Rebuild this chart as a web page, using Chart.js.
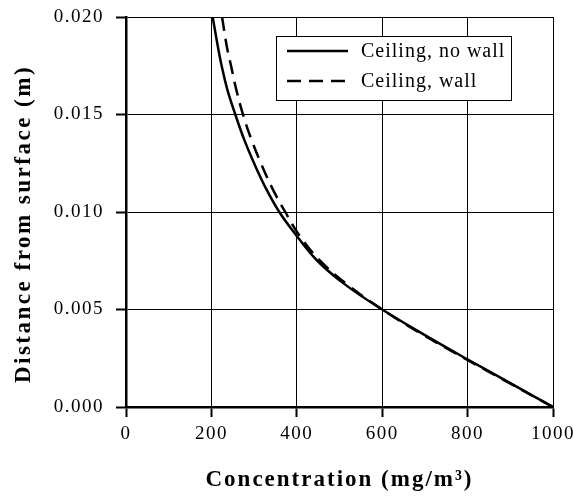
<!DOCTYPE html>
<html><head><meta charset="utf-8">
<script src="https://cdn.jsdelivr.net/npm/chart.js@4.4.1/dist/chart.umd.min.js"></script>
<style>html,body{margin:0;padding:0;background:#fff;} #wrap{width:573px;height:497px;position:relative;}</style>
</head><body><div id="wrap"><canvas id="c"></canvas></div>
<script>
// ---- data ----
const xTicks = [0, 200, 400, 600, 800, 1000];
const yTicks = [0, 0.005, 0.010, 0.015, 0.020];
const seriesLabels = ['Ceiling, no wall', 'Ceiling, wall'];
const distance = [0.0200, 0.0185, 0.0175, 0.0163, 0.0150, 0.0137, 0.0125, 0.0112, 0.0100, 0.0088, 0.0075, 0.00625, 0.0050, 0.00375, 0.0025, 0.00125, 0];
const noWallConc = [203, 215, 224, 237, 256, 277, 300, 328, 359, 399, 448, 515, 600, 695, 795, 898, 1000];
const wallConc   = [225, 236, 246, 258, 274, 294, 316, 343, 373, 406, 455, 520, 600, 692, 792, 896, 1000];
const xTitle = 'Concentration (mg/m\u00B3)';
const yTitle = 'Distance from surface (m)';

const SERIF = "'Liberation Serif', 'DejaVu Serif', serif";

const spacingPlugin = {
  id: 'spacing',
  beforeDraw(chart) {
    chart.ctx.letterSpacing = '1.5px';
    Object.values(chart.scales).forEach(s => {
      if (!s._titlePatched) {
        const orig = s.drawTitle;
        s.drawTitle = function () {
          const c = this.ctx; const prev = c.letterSpacing;
          c.save();
          c.letterSpacing = this.isHorizontal() ? '2px' : '2.5px';
          if (!this.isHorizontal()) c.translate(0, 12);
          orig.call(this);
          c.restore();
          c.letterSpacing = prev;
        };
        s._titlePatched = true;
      }
    });
  },
  beforeDatasetsDraw(chart) { chart.ctx.letterSpacing = '0px'; }
};

const boxLegend = {
  id: 'boxLegend',
  afterDraw(chart) {
    const ctx = chart.ctx, ca = chart.chartArea;
    const bx = ca.left + 150, by = ca.top + 19, bw = 235, bh = 64;
    ctx.save();
    ctx.fillStyle = '#fff';
    ctx.fillRect(bx, by, bw, bh);
    ctx.strokeStyle = '#000'; ctx.lineWidth = 1;
    ctx.strokeRect(bx + 0.5, by + 0.5, bw, bh);
    chart.data.datasets.forEach((ds, i) => {
      const y = by + 15 + i * 30;
      ctx.beginPath();
      ctx.setLineDash(ds.borderDash || []);
      ctx.lineWidth = ds.borderWidth; ctx.strokeStyle = ds.borderColor;
      ctx.moveTo(bx + 11, y); ctx.lineTo(bx + 72, y); ctx.stroke();
      ctx.setLineDash([]);
      ctx.letterSpacing = '1px';
      ctx.fillStyle = '#000';
      ctx.font = "20px " + SERIF;
      ctx.textBaseline = 'middle'; ctx.textAlign = 'left';
      ctx.fillText(ds.label, bx + 85, y + 1);
    });
    ctx.restore();
  }
};

new Chart(document.getElementById('c'), {
  type: 'scatter',
  data: {
    datasets: [
      { label: seriesLabels[0], data: noWallConc.map((x, i) => ({ x, y: distance[i] })),
        showLine: true, borderColor: '#000', borderWidth: 2.5, pointRadius: 0, tension: 0.4, fill: false },
      { label: seriesLabels[1], data: wallConc.map((x, i) => ({ x, y: distance[i] })),
        showLine: true, borderColor: '#000', borderWidth: 2.5, borderDash: [14, 8], pointRadius: 0, tension: 0.4, fill: false }
    ]
  },
  options: {
    responsive: true, maintainAspectRatio: false, animation: false,
    layout: { padding: { top: 17, right: 20, left: 0, bottom: 0 } },
    plugins: { legend: { display: false }, tooltip: { enabled: false } },
    scales: {
      x: {
        type: 'linear', min: 0, max: 1000,
        afterBuildTicks: s => { s.ticks = xTicks.map(v => ({ value: v })); },
        afterFit: s => { s.height = 90; s.paddingLeft = 0; s.paddingRight = 0; },
        grid: { color: '#000', lineWidth: 1, drawTicks: true, tickLength: 10, tickColor: '#000', tickWidth: 2 },
        border: { display: true, color: '#000', width: 2.5 },
        ticks: { color: '#000', font: { family: SERIF, size: 19 }, padding: 6, maxRotation: 0, callback: v => String(v) },
        title: { display: true, text: xTitle, color: '#000', font: { family: SERIF, size: 23, weight: 'bold' }, padding: { top: 0, bottom: 3 } }
      },
      y: {
        type: 'linear', min: 0, max: 0.02,
        afterBuildTicks: s => { s.ticks = yTicks.map(v => ({ value: v })); },
        afterFit: s => { s.width = 126; s.paddingTop = 0; s.paddingBottom = 0; },
        grid: { color: '#000', lineWidth: 1, drawTicks: true, tickLength: 10, tickColor: '#000', tickWidth: 2 },
        border: { display: true, color: '#000', width: 2.5 },
        ticks: { color: '#000', font: { family: SERIF, size: 19 }, padding: 12, callback: v => v.toFixed(3) },
        title: { display: true, text: yTitle, color: '#000', font: { family: SERIF, size: 23, weight: 'bold' }, padding: { top: 10, bottom: 0 } }
      }
    }
  },
  plugins: [spacingPlugin, boxLegend]
});
</script>
</body></html>
